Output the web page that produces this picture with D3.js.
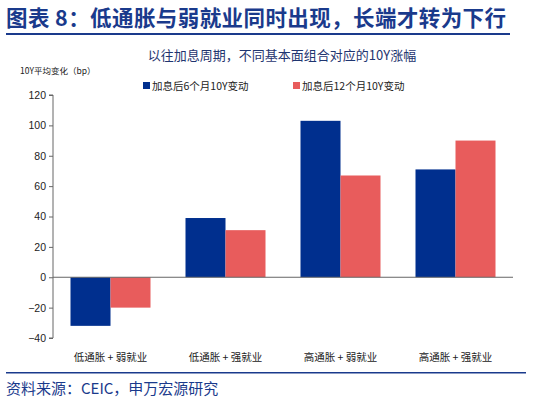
<!DOCTYPE html>
<html><head><meta charset="utf-8">
<script src="https://cdn.jsdelivr.net/npm/d3@7"></script>
<style>body{margin:0;background:#fff}svg{font-family:"Noto Sans CJK SC",sans-serif}</style>
</head><body><svg id="c" width="540" height="403"></svg>
<script>
const categories = ["低通胀 + 弱就业", "低通胀 + 强就业", "高通胀 + 弱就业", "高通胀 + 强就业"];
const series6 = [-32, 39, 103, 71];
const series12 = [-20, 31, 67, 90];
const seriesNames = ["加息后6个月10Y变动", "加息后12个月10Y变动"];
const yTicks = [-40, -20, 0, 20, 40, 60, 80, 100, 120];
const colors = ["#002f8e", "#e85c5c"];

const svg = d3.select("#c");
svg.append("text").attr("x", 6).attr("y", 26).attr("fill", "#1a3a8c")
  .attr("font-size", 21.5).attr("font-weight", "bold").attr("textLength", 500).text("图表 8：低通胀与弱就业同时出现，长端才转为下行");
svg.append("rect").attr("x", 6).attr("y", 33).attr("width", 504).attr("height", 2).attr("fill", "#1a3a8c");
svg.append("text").attr("x", 282).attr("y", 60).attr("text-anchor", "middle").attr("fill", "#1f3570")
  .attr("font-size", 13).text("以往加息周期，不同基本面组合对应的10Y涨幅");
svg.append("text").attr("x", 20).attr("y", 74).attr("font-size", 8.5).attr("fill", "#222").text("10Y平均变化（bp）");

const y = d3.scaleLinear().domain([-40, 120]).range([338, 95]);
const x = d3.scaleBand().domain(categories).range([53, 513]);
const xs = d3.scaleBand().domain([0, 1]).range([0, 80]);

const ax = svg.append("g").attr("transform", "translate(53,0)")
  .call(d3.axisLeft(y).tickValues(yTicks).tickSize(4).tickSizeOuter(4));
ax.selectAll("text").attr("font-size", 10.5).attr("fill", "#222").attr("font-family", "Arial, sans-serif");
ax.selectAll("line,path").attr("stroke", "#666");
ax.select(".domain").attr("d", "M-4,95H0V338H-4");

const g = svg.append("g");
[series6, series12].forEach((s, k) => {
  g.selectAll(null).data(s).join("rect")
    .attr("x", (d, i) => x(categories[i]) + x.bandwidth() / 2 - 40 + xs(k))
    .attr("width", xs.bandwidth())
    .attr("y", d => y(Math.max(0, d)))
    .attr("height", d => Math.abs(y(d) - y(0)))
    .attr("fill", colors[k]);
});
svg.append("line").attr("x1", 53).attr("x2", 513).attr("y1", y(0)).attr("y2", y(0)).attr("stroke", "#666");

svg.selectAll(".xl").data(categories).join("text")
  .attr("x", d => x(d) + x.bandwidth() / 2).attr("y", 361).attr("text-anchor", "middle")
  .attr("font-size", 10.5).attr("fill", "#222").text(d => d);

const lx = [143, 293];
seriesNames.forEach((n, k) => {
  svg.append("rect").attr("x", lx[k]).attr("y", 82).attr("width", 7).attr("height", 7).attr("fill", colors[k]);
  svg.append("text").attr("x", lx[k] + 9).attr("y", 89.5).attr("font-size", 10.5).attr("fill", "#222").text(n);
});

svg.append("rect").attr("x", 6).attr("y", 372).attr("width", 520).attr("height", 1.5).attr("fill", "#1a3a8c");
svg.append("text").attr("x", 6).attr("y", 394).attr("font-size", 15).attr("fill", "#1a3a8c").text("资料来源：CEIC，申万宏源研究");
</script></body></html>
